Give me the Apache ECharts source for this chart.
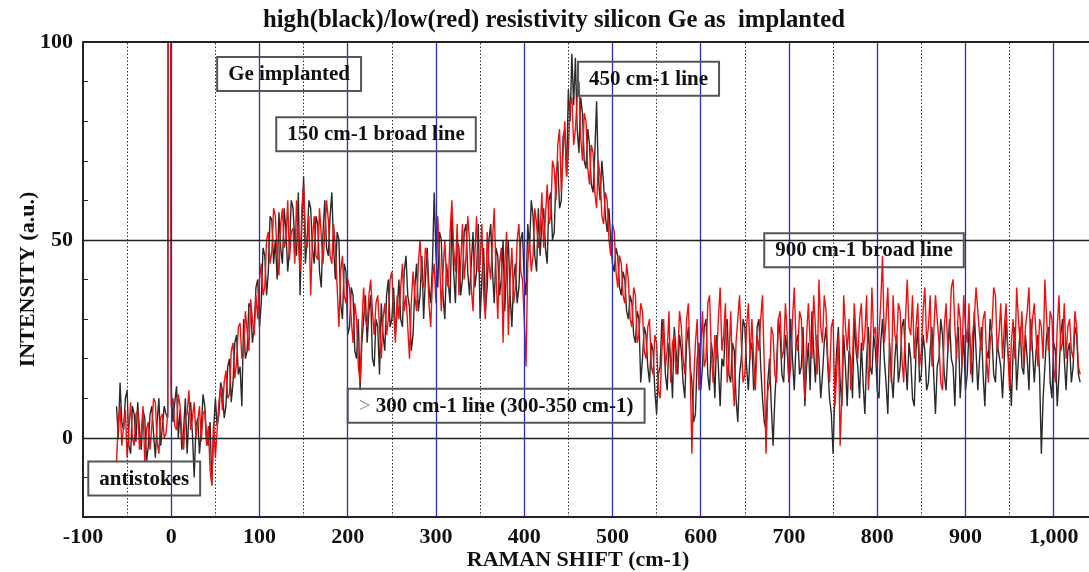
<!DOCTYPE html>
<html>
<head>
<meta charset="utf-8">
<script src="https://cdn.jsdelivr.net/npm/echarts@6/dist/echarts.min.js"></script>
<style>
  html, body { margin: 0; padding: 0; background: #fff; overflow: hidden; }
  #chart { width: 1089px; height: 572px; }
</style>
</head>
<body>
<div id="chart"></div>
<script>
// Raman shift sampling (cm-1)
const ramanShift = [
  -62,-60,-58,-56,-54,-52,-50,-48,-46,-44,
  -42,-40,-38,-36,-34,-32,-30,-28,-26,-24,
  -22,-20,-18,-16,-14,-12,-10,-8,-6,-4,
  -2,0,2,4,6,8,10,12,14,16,
  18,20,22,24,26,28,30,32,34,36,
  38,40,42,44,46,48,50,52,54,56,
  58,60,62,64,66,68,70,72,74,76,
  78,80,82,84,86,88,90,92,94,96,
  98,100,102,104,106,108,110,112,114,116,
  118,120,122,124,126,128,130,132,134,136,
  138,140,142,144,146,148,150,152,154,156,
  158,160,162,164,166,168,170,172,174,176,
  178,180,182,184,186,188,190,192,194,196,
  198,200,202,204,206,208,210,212,214,216,
  218,220,222,224,226,228,230,232,234,236,
  238,240,242,244,246,248,250,252,254,256,
  258,260,262,264,266,268,270,272,274,276,
  278,280,282,284,286,288,290,292,294,296,
  298,300,302,304,306,308,310,312,314,316,
  318,320,322,324,326,328,330,332,334,336,
  338,340,342,344,346,348,350,352,354,356,
  358,360,362,364,366,368,370,372,374,376,
  378,380,382,384,386,388,390,392,394,396,
  398,400,402,404,406,408,410,412,414,416,
  418,420,422,424,426,428,430,432,434,436,
  438,440,442,444,446,448,450,452,454,456,
  458,460,462,464,466,468,470,472,474,476,
  478,480,482,484,486,488,490,492,494,496,
  498,500,502,504,506,508,510,512,514,516,
  518,520,522,524,526,528,530,532,534,536,
  538,540,542,544,546,548,550,552,554,556,
  558,560,562,564,566,568,570,572,574,576,
  578,580,582,584,586,588,590,592,594,596,
  598,600,602,604,606,608,610,612,614,616,
  618,620,622,624,626,628,630,632,634,636,
  638,640,642,644,646,648,650,652,654,656,
  658,660,662,664,666,668,670,672,674,676,
  678,680,682,684,686,688,690,692,694,696,
  698,700,702,704,706,708,710,712,714,716,
  718,720,722,724,726,728,730,732,734,736,
  738,740,742,744,746,748,750,752,754,756,
  758,760,762,764,766,768,770,772,774,776,
  778,780,782,784,786,788,790,792,794,796,
  798,800,802,804,806,808,810,812,814,816,
  818,820,822,824,826,828,830,832,834,836,
  838,840,842,844,846,848,850,852,854,856,
  858,860,862,864,866,868,870,872,874,876,
  878,880,882,884,886,888,890,892,894,896,
  898,900,902,904,906,908,910,912,914,916,
  918,920,922,924,926,928,930,932,934,936,
  938,940,942,944,946,948,950,952,954,956,
  958,960,962,964,966,968,970,972,974,976,
  978,980,982,984,986,988,990,992,994,996,
  998,1000,1002,1004,1006,1008,1010,1012,1014,1016,
  1018,1020,1022,1024,1026,1028,1030
];

// High resistivity substrate (black trace)
const highResIntensity = [
  8,0,14,4,2,10,12,-2,-4,8,
  6,-1,9,2,-3,7,5,-6,-2,6,
  8,1,-5,4,10,-2,3,8,6,5,
  380,12,4,9,13,0,7,-3,2,10,
  -4,6,9,1,-10,3,5,-4,2,11,
  8,0,-2,4,-12,2,10,3,6,14,
  12,5,8,18,20,9,14,24,26,16,
  18,8,30,20,22,34,33,24,28,38,
  40,28,34,48,46,36,42,56,55,44,
  50,40,57,48,44,58,52,42,48,60,
  58,50,46,62,36,54,66,44,50,60,
  58,48,44,56,54,42,38,52,60,48,
  46,56,62,48,40,52,50,34,30,44,
  42,26,28,38,36,22,20,30,12,24,
  30,36,24,32,36,20,18,30,28,16,
  34,26,22,36,40,28,30,38,26,32,
  40,30,28,42,46,36,33,22,26,38,
  44,32,36,46,30,40,48,38,34,44,
  62,46,38,52,50,36,30,44,44,34,
  56,42,34,50,48,36,40,52,54,42,
  36,44,52,38,42,54,30,40,48,32,
  38,50,54,42,34,48,46,36,40,50,
  32,44,50,36,28,40,44,34,38,50,
  52,40,36,54,48,60,56,46,42,58,
  46,54,58,48,44,60,62,50,52,66,
  70,58,60,76,78,66,88,80,97,84,
  96,78,72,86,82,70,68,78,74,64,
  62,72,85,66,60,70,64,56,52,58,
  50,44,42,48,46,38,36,42,40,32,
  30,36,34,26,24,32,30,14,20,28,
  26,18,14,24,22,12,6,16,18,30,
  26,16,12,24,20,10,28,22,16,26,
  22,14,10,24,28,18,14,4,6,20,
  24,12,18,28,30,16,12,24,20,10,
  26,18,8,20,18,28,30,16,14,24,
  22,10,4,16,20,30,28,18,12,22,
  24,12,16,28,30,18,10,4,2,14,
  20,8,-2,10,18,30,26,16,14,26,
  22,14,30,20,12,24,26,16,18,28,
  8,18,24,12,32,22,14,26,20,10,
  16,24,28,18,10,6,-4,12,22,28,
  14,8,26,18,8,22,20,10,30,22,
  18,10,24,14,6,20,28,18,16,26,
  22,12,10,24,30,20,14,6,24,16,
  10,20,26,14,18,28,30,20,12,24,
  20,10,8,22,28,14,16,26,22,12,
  14,22,28,16,6,18,20,30,26,16,
  12,22,30,20,18,8,24,28,10,18,
  26,12,16,28,22,14,32,22,12,20,
  28,16,8,22,20,30,26,16,14,24,
  24,18,10,20,30,22,18,8,22,28,
  12,20,28,18,16,26,20,12,30,22,
  14,22,26,16,-4,10,18,26,28,14,
  10,24,22,8,16,26,30,20,12,22,
  24,14,18,28,26,16,14
];

// Low resistivity substrate (red trace)
const lowResIntensity = [
  -6,4,8,-2,3,7,-5,2,9,0,
  -2,6,7,-3,1,8,-6,2,4,-3,
  3,10,9,-1,-4,5,6,0,1,6,
  420,8,10,3,2,11,8,1,-3,5,
  6,12,2,5,9,0,4,8,-1,6,
  7,-2,3,-8,-12,4,-5,2,9,13,
  7,14,17,10,11,22,24,15,19,28,
  29,20,21,32,27,22,35,30,26,36,
  30,40,44,36,38,50,52,44,47,58,
  56,46,41,54,58,48,50,60,45,52,
  53,44,60,50,42,58,64,52,48,56,
  36,50,56,46,45,58,58,44,52,60,
  55,46,44,54,48,38,28,42,46,36,
  34,40,38,30,24,34,30,18,14,28,
  38,30,28,36,40,32,26,34,36,28,
  20,30,34,26,30,40,42,32,24,36,
  30,38,44,32,36,28,20,34,42,36,
  32,44,50,40,38,48,46,34,28,40,
  44,34,56,46,32,42,50,40,38,52,
  60,48,42,54,36,44,54,40,46,56,
  50,38,32,46,56,42,44,54,36,30,
  52,44,40,50,58,42,30,44,48,24,
  44,52,26,40,48,34,38,50,54,42,
  40,30,18,44,50,42,46,58,54,48,
  52,62,48,56,64,54,56,70,68,60,
  74,78,62,72,80,66,72,84,86,74,
  78,86,90,76,70,82,80,68,64,74,
  72,62,58,70,66,56,54,62,60,50,
  46,54,52,42,38,46,44,36,34,44,
  40,30,28,38,36,24,26,34,32,22,
  20,28,30,18,16,26,24,12,10,22,
  30,18,22,32,14,24,26,16,20,32,
  28,20,16,30,34,18,-4,14,24,30,
  12,22,32,18,20,34,36,22,14,26,
  20,30,38,22,26,34,14,20,32,16,
  8,24,30,36,24,14,16,28,34,20,
  30,20,12,26,22,30,36,18,-4,12,
  14,28,26,16,14,30,32,20,22,34,
  26,14,18,30,38,24,22,32,30,18,
  10,26,34,24,20,36,28,16,40,28,
  24,36,32,20,14,28,30,8,16,26,
  -2,12,36,28,22,30,12,20,34,26,
  20,30,34,22,26,36,12,20,38,26,
  28,18,18,34,46,24,30,38,22,14,
  36,26,24,34,32,20,14,30,40,28,
  26,36,20,28,34,18,22,32,38,24,
  28,36,18,26,36,30,24,14,12,28,
  34,22,26,38,40,28,20,34,30,18,
  36,28,24,34,16,26,30,38,38,26,
  22,30,32,20,14,24,28,38,36,22,
  26,34,20,28,34,22,12,24,30,20,
  38,30,24,32,18,28,32,38,22,30,
  34,26,18,30,28,20,40,30,22,32,
  30,18,14,28,36,22,24,34,20,28,
  30,22,20,32,28,18,16
];

// Reference grid lines
const majorShiftLines = [0,100,200,300,400,500,600,700,800,900,1000];
const minorShiftLines = [-50,50,150,250,350,450,550,650,750,850,950];
const intensityLines = [0,50,100];

// Annotation boxes: [text, shift, intensity] of each box's upper-left corner
const notes = [
  ['Ge implanted', 52, 96.2],
  ['150 cm-1 broad line', 119, 81],
  ['450 cm-1 line', 461, 95],
  ['900 cm-1 broad line', 672, 51.7],
  ['{g|>} 300 cm-1 line (300-350 cm-1)', 200, 12.4],
  ['antistokes', -94, -6]
];

const SERIF = '"Liberation Serif", "Times New Roman", serif';
const pairs = (ys) => ramanShift.map((x, i) => [x, ys[i]]);

const chart = echarts.init(document.getElementById('chart'), null, { renderer: 'canvas' });

chart.setOption({
  animation: false,
  backgroundColor: '#fff',
  title: {
    text: 'high(black)/low(red) resistivity silicon Ge as  implanted',
    left: 258,
    top: 3,
    textStyle: { fontFamily: SERIF, fontWeight: 'bold', fontSize: 24.7, color: '#111' }
  },
  grid: { left: 83, right: 0, top: 42, bottom: 55, containLabel: false, outerBoundsMode: 'none' },
  xAxis: {
    type: 'value',
    min: -100,
    max: 1040,
    interval: 100,
    name: 'RAMAN SHIFT (cm-1)',
    nameLocation: 'middle',
    nameGap: 32,
    nameMoveOverlap: false,
    nameTextStyle: { fontFamily: SERIF, fontWeight: 'bold', fontSize: 22, color: '#111', padding: [0, 16, 0, 0] },
    axisLine: { show: true, onZero: false, lineStyle: { color: '#222', width: 2 } },
    axisTick: { show: false },
    splitLine: { show: false },
    axisLabel: {
      showMaxLabel: false,
      margin: 9,
      fontFamily: SERIF, fontWeight: 'bold', fontSize: 22, color: '#111',
      formatter: (v) => (v % 100 === 0 ? v.toLocaleString('en-US') : '')
    }
  },
  yAxis: {
    type: 'value',
    min: -20,
    max: 100,
    interval: 10,
    name: 'INTENSITY (a.u.)',
    nameLocation: 'middle',
    nameGap: 44,
    nameMoveOverlap: false,
    nameTextStyle: { fontFamily: SERIF, fontWeight: 'bold', fontSize: 22, color: '#111' },
    axisLine: { show: true, onZero: false, lineStyle: { color: '#222', width: 2 } },
    axisTick: { show: true, inside: true, length: 5, lineStyle: { color: '#222', width: 1 } },
    splitLine: { show: false },
    axisLabel: {
      margin: 10,
      fontFamily: SERIF, fontWeight: 'bold', fontSize: 22, color: '#111',
      formatter: (v) => (v % 50 === 0 ? String(v) : '')
    }
  },
  series: [
    {
      name: 'grid',
      type: 'line',
      data: [],
      z: 1,
      silent: true,
      markLine: {
        silent: true,
        symbol: 'none',
        label: { show: false },
        data: [
          ...majorShiftLines.map((x) => ({ xAxis: x, lineStyle: { color: '#2c2cd0', width: 1.3, type: 'solid' } })),
          ...minorShiftLines.map((x) => ({ xAxis: x, lineStyle: { color: '#333', width: 1, type: [1.5, 2] } })),
          ...intensityLines.map((y) => ({ yAxis: y, lineStyle: { color: '#222', width: y === 100 ? 2 : 1.4, type: 'solid' } }))
        ]
      }
    },
    {
      name: 'high resistivity',
      type: 'line',
      data: pairs(highResIntensity),
      showSymbol: false,
      clip: true,
      z: 2,
      lineStyle: { color: '#2a2a2a', width: 1.4 },
      itemStyle: { color: '#2a2a2a' }
    },
    {
      name: 'low resistivity',
      type: 'line',
      data: pairs(lowResIntensity),
      showSymbol: false,
      clip: true,
      z: 3,
      lineStyle: { color: '#f01010', width: 1.4 },
      itemStyle: { color: '#f01010' }
    }
  ]
});

// Boxed text notes anchored in data coordinates
chart.setOption({
  graphic: notes.map(([text, sx, sy]) => {
    const [px, py] = chart.convertToPixel({ gridIndex: 0 }, [sx, sy]);
    return {
      type: 'text',
      x: px,
      y: py,
      z: 10,
      silent: true,
      style: {
        text: text,
        font: 'bold 21px ' + SERIF,
        fill: '#111',
        textAlign: 'left',
        textVerticalAlign: 'top',
        borderColor: '#555',
        borderWidth: 2,
        padding: [7, 11, 6, 11],
        rich: {
          g: { font: '21px ' + SERIF, fill: '#888' }
        }
      }
    };
  })
});
</script>
</body>
</html>
